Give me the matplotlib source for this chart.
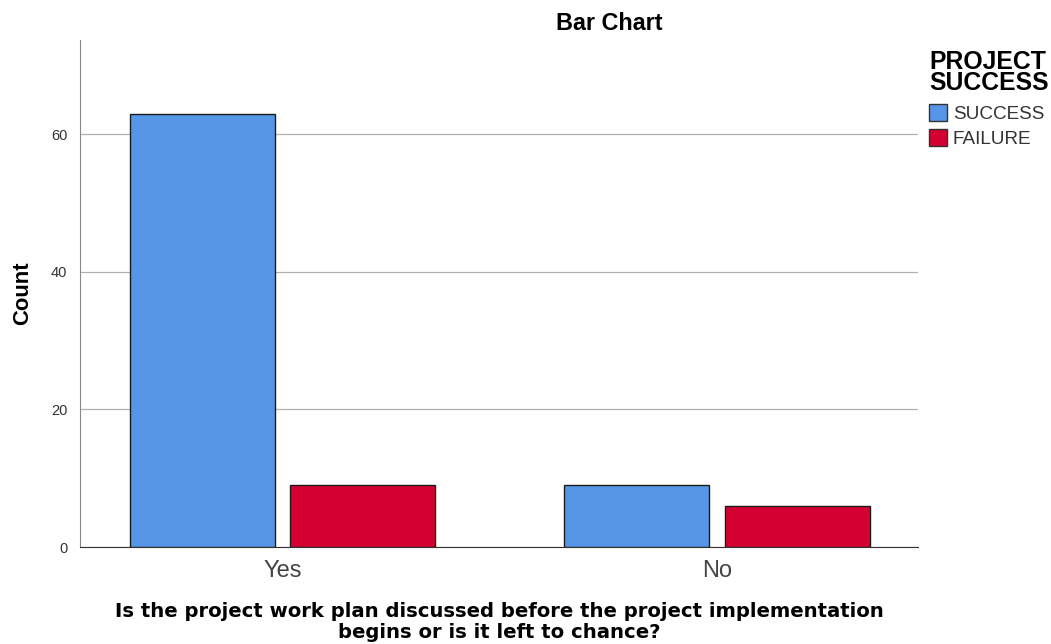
import numpy as np
import matplotlib.pyplot as plt
from matplotlib.patches import Patch

plt.rcParams["font.family"] = ["Liberation Sans", "DejaVu Sans"]

# =========================
# Data
# =========================
categories = ["Yes", "No"]
series = ["SUCCESS", "FAILURE"]
success = [63, 9]
failure = [9, 6]
colors = ["#5596E6", "#D50032"]

# =========================
# Plot
# =========================
fig = plt.figure(figsize=(10.51, 6.44), dpi=100)
ax = fig.add_axes([0.0761, 0.1506, 0.7974, 0.7873])

x = np.arange(len(categories))
w = 0.334
off = 0.185
ax.bar(x - off, success, w, color=colors[0], edgecolor="#1a1a1a", linewidth=1, zorder=3)
ax.bar(x + off, failure, w, color=colors[1], edgecolor="#1a1a1a", linewidth=1, zorder=3)

ax.set_xlim(-0.466, 1.463)
ax.set_ylim(0, 73.7)
ax.set_yticks([0, 20, 40, 60])
ax.set_xticks(x)
ax.set_xticklabels(categories, fontsize=17, color="#444444")
ax.tick_params(axis="y", length=0, labelsize=10.5, pad=9, colors="#333333")
ax.tick_params(axis="x", length=0, pad=9)
ax.yaxis.grid(True, color="#b0b0b0", linewidth=0.9, zorder=0)
ax.set_axisbelow(True)

for s in ["top", "right"]:
    ax.spines[s].set_visible(False)
ax.spines["left"].set_color("#888888")
ax.spines["bottom"].set_color("#333333")

ax.set_ylabel("Count", fontsize=15.8, fontweight="bold")
ax.yaxis.set_label_coords(-0.056, 0.5)
ax.set_xlabel("Is the project work plan discussed before the project implementation\nbegins or is it left to chance?",
              fontsize=14.1, fontweight="bold", family="DejaVu Sans", linespacing=1.12)
ax.xaxis.set_label_coords(0.5, -0.108)

fig.text(609 / 1051, 1 - 23 / 644, "Bar Chart", ha="center", va="center",
         fontsize=16.8, fontweight="bold")

handles = [Patch(facecolor=c, edgecolor="#333333", label=s) for c, s in zip(colors, series)]
leg = fig.legend(handles=handles, title="PROJECT\nSUCCESS", loc="upper left",
                 bbox_to_anchor=(0.884, 0.923), frameon=False, fontsize=13.6,
                 handlelength=0.95, handleheight=1.0, handletextpad=0.3,
                 labelspacing=0.28, borderaxespad=0, borderpad=0)
leg.get_title().set_fontweight("bold")
leg.get_title().set_fontsize(17.8)
leg.get_title().set_linespacing(0.85)
leg._legend_box.align = "left"
leg._legend_box.sep = 7
for t in leg.get_texts():
    t.set_color("#333333")

fig.savefig("out.png", dpi=100)
